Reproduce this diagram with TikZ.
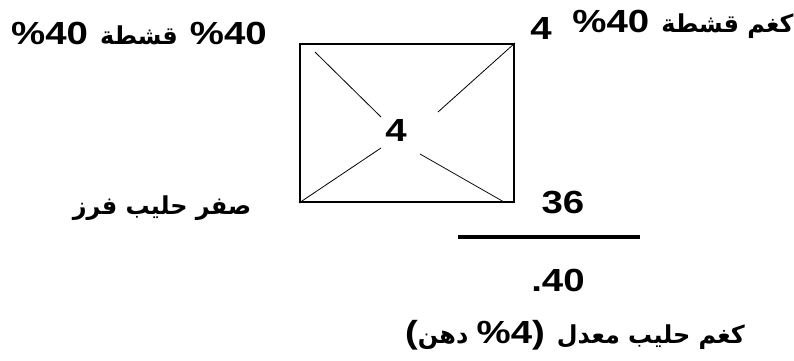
\documentclass[tikz,border=0pt]{standalone}
\usepackage{fontspec}
\setmainfont{Liberation Sans}[FakeStretch=1.2]
\newfontfamily\arabicfont[Script=Arabic,FakeStretch=0.97]{DejaVu Sans}
\TeXXeTstate=1
\usetikzlibrary{positioning}
\newcommand{\latnum}[1]{{\normalfont\bfseries\fontsize{24}{28}\selectfont #1}}
\newcommand{\arrun}[1]{\beginR #1\endR}
\newcommand{\gap}{\hspace{9pt}}
\tikzset{
  numlabel/.style={
    font=\fontsize{24}{28}\selectfont\bfseries, inner sep=0pt
  },
  arlabel/.style={
    font=\fontsize{18.5}{24}\selectfont\arabicfont\bfseries, inner sep=0pt
  },
  squarebox/.style={
    draw, line width=1.5pt, minimum width=160.5pt, minimum height=118.5pt,
    inner sep=0pt
  },
  crossline/.style={line width=0.6pt},
  barline/.style={line width=3pt},
}

\begin{document}
\begin{tikzpicture}[x=0.75pt, y=-0.75pt]
  \useasboundingbox (0,0) rectangle (794,361);

  % Pearson square
  \node[squarebox] (square) at (407,123) {};
  \node[numlabel] (mid) at (396,130) {4};

  % Cross lines (broken around the middle number)
  \coordinate (tlin) at (381,117);
  \coordinate (trin) at (438,112);
  \coordinate (blin) at (381,148);
  \coordinate (brin) at (420,154);
  \draw[crossline] ([shift={(16,9)}]square.north west) -- (tlin);
  \draw[crossline] (square.north east) -- (trin);
  \draw[crossline] (square.south west) -- (blin);
  \draw[crossline] (brin) -- ([shift={(-11,-1)}]square.south east);

  % Corner labels
  \node[arlabel] (cream) at (139,33)
    {\latnum{\%40}\gap\arrun{قشطة}\gap\latnum{\%40}};
  \node[arlabel] (creamkg) at (683,24)
    {\latnum{\%40}\gap\arrun{كغم قشطة}};
  \node[numlabel] (creamval) at (541,28) {4};
  \node[arlabel] (skim) at (162,208) {\arrun{صفر حليب فرز}};
  \node[numlabel] (skimval) at (563,203) {36};

  % Sum
  \coordinate (barL) at (458,237);
  \coordinate (barR) at (640,237);
  \draw[barline] (barL) -- (barR);
  \node[numlabel] (total) at (558,280) {.40};
  \node[arlabel] (milk) at (575,335)
    {\latnum{(}\arrun{دهن} \latnum{\%4)}\gap\arrun{كغم حليب معدل}};
\end{tikzpicture}
\end{document}
